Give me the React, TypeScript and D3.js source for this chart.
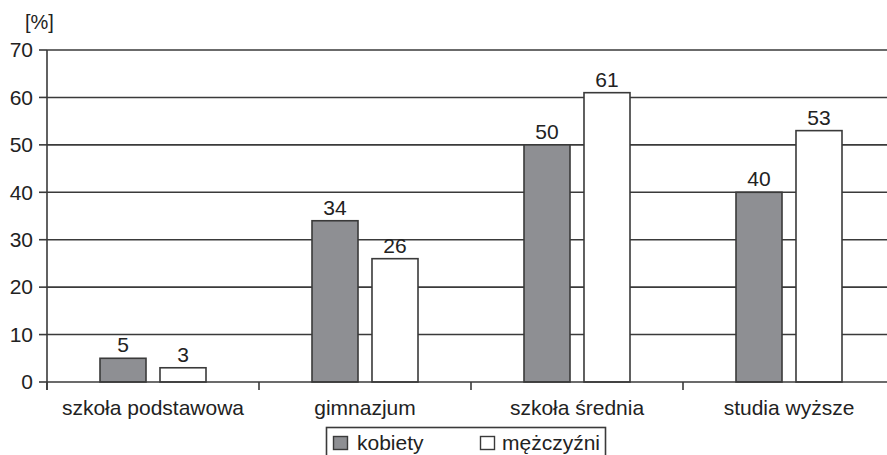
import React from "react";
import * as d3 from "d3";

const categories = ["szkoła podstawowa", "gimnazjum", "szkoła średnia", "studia wyższe"];
const kobiety = [5, 34, 50, 40];
const mezczyzni = [3, 26, 61, 53];
const seriesNames = ["kobiety", "mężczyźni"];
const yTicks = [0, 10, 20, 30, 40, 50, 60, 70];

const W = 887;
const H = 455;
const FONT = "'Liberation Sans', Arial, sans-serif";
const LINE = "#3a3a3a";
const TXT = "#222";
const GRAY = "#8e8f93";
const FS = 21;

export default function App() {
  const left = 47;
  const right = 895;
  const top = 50;
  const bottom = 382;
  const x = d3.scaleBand<string>().domain(categories).range([left, right]).padding(0);
  const y = d3.scaleLinear().domain([0, 70]).range([bottom, top]);
  const bw = x.bandwidth();
  const barW = bw * 0.217;
  const off1 = bw * 0.25;
  const off2 = bw * 0.533;
  const bandEdges = categories.map((c) => x(c)!).concat([right]);

  return (
    <div style={{ position: "absolute", left: 0, top: 0 }}>
      <svg width={W} height={H} style={{ display: "block", background: "#fff" }} fontFamily={FONT}>
        {yTicks.map((t) => (
          <g key={t}>
            {t > 0 && <line x1={left} x2={W} y1={y(t)} y2={y(t)} stroke={LINE} strokeWidth={1.6} />}
            <line x1={left - 8} x2={left} y1={y(t)} y2={y(t)} stroke={LINE} strokeWidth={1.6} />
            <text x={33} y={y(t)} dy="0.35em" textAnchor="end" fontSize={FS} fill={TXT}>
              {t}
            </text>
          </g>
        ))}
        <text x={25} y={29} fontSize={FS - 1} fill={TXT}>[%]</text>
        {categories.map((c, i) => {
          const x0 = x(c)!;
          const v1 = kobiety[i];
          const v2 = mezczyzni[i];
          return (
            <g key={c}>
              <rect x={x0 + off1} y={y(v1)} width={barW} height={y(0) - y(v1)} fill={GRAY} stroke={LINE} strokeWidth={1.6} />
              <rect x={x0 + off2} y={y(v2)} width={barW} height={y(0) - y(v2)} fill="#fff" stroke={LINE} strokeWidth={1.6} />
              <text x={x0 + off1 + barW / 2} y={y(v1) - 6} textAnchor="middle" fontSize={FS} fill={TXT}>{v1}</text>
              <text x={x0 + off2 + barW / 2} y={y(v2) - 6} textAnchor="middle" fontSize={FS} fill={TXT}>{v2}</text>
              <text x={x0 + bw / 2} y={415} textAnchor="middle" fontSize={FS} fill={TXT}>{c}</text>
            </g>
          );
        })}
        <line x1={left} x2={W} y1={y(0)} y2={y(0)} stroke={LINE} strokeWidth={1.6} />
        {bandEdges.map((e, i) => (
          <line key={i} x1={e} x2={e} y1={y(0)} y2={y(0) + 8} stroke={LINE} strokeWidth={1.6} />
        ))}
        <line x1={left} x2={left} y1={top} y2={y(0) + 8} stroke={LINE} strokeWidth={1.6} />
        <g>
          <rect x={326.5} y={427.5} width={279} height={40} fill="#fff" stroke={LINE} strokeWidth={1.6} />
          <rect x={333.5} y={436.5} width={14} height={13} fill={GRAY} stroke={LINE} strokeWidth={1.4} />
          <text x={357} y={450} fontSize={FS} fill={TXT}>{seriesNames[0]}</text>
          <rect x={480.5} y={436.5} width={14} height={13} fill="#fff" stroke={LINE} strokeWidth={1.4} />
          <text x={502} y={450} fontSize={FS} fill={TXT}>{seriesNames[1]}</text>
        </g>
      </svg>
    </div>
  );
}
